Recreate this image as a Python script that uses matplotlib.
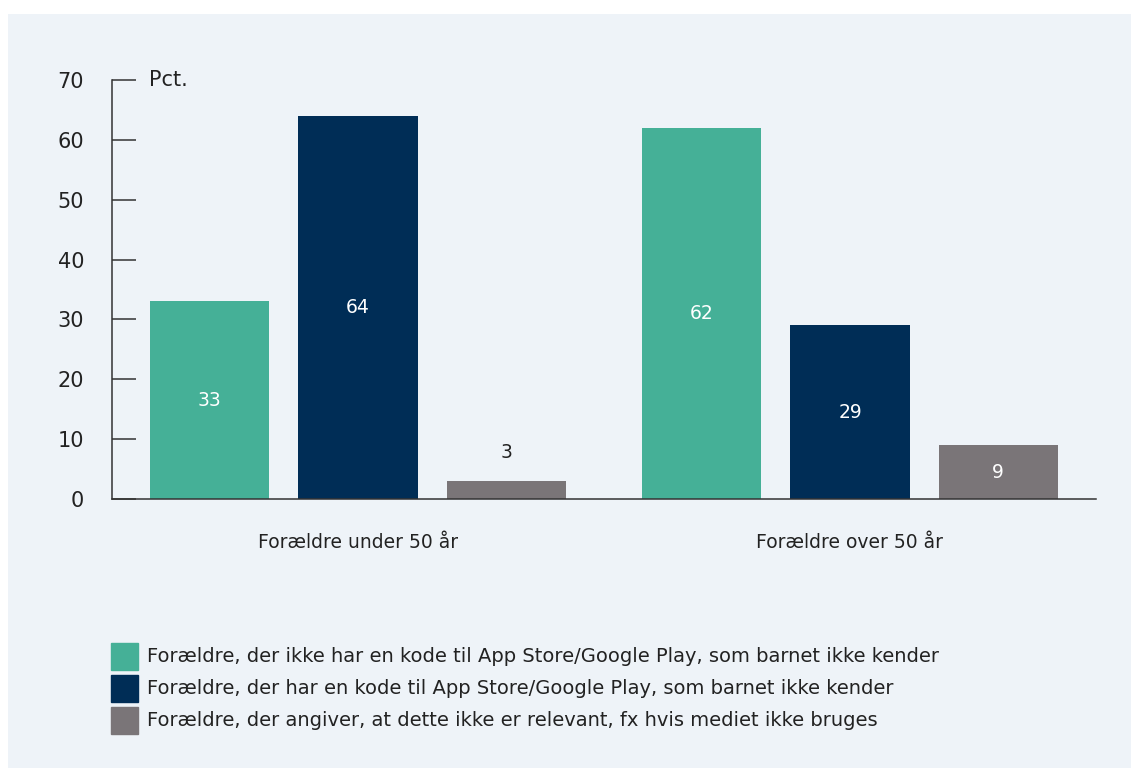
import matplotlib
matplotlib.use("Agg")
import matplotlib.pyplot as plt
import matplotlib.patches as mpatches
import numpy as np

# Data
groups = ["Forældre under 50 år", "Forældre over 50 år"]
series_labels = [
    "Forældre, der ikke har en kode til App Store/Google Play, som barnet ikke kender",
    "Forældre, der har en kode til App Store/Google Play, som barnet ikke kender",
    "Forældre, der angiver, at dette ikke er relevant, fx hvis mediet ikke bruges",
]
no_code = [33, 62]
has_code = [64, 29]
not_relevant = [3, 9]
yticks = [0, 10, 20, 30, 40, 50, 60, 70]

COLORS = ["#45b097", "#002d56", "#7a7578"]
BG = "#eef3f8"
TEXT = "#222222"

plt.rcParams["font.family"] = ["DejaVu Sans"]

fig = plt.figure(figsize=(11.31, 7.69), dpi=100)
fig.patch.set_facecolor("white")
fig.patches.append(mpatches.Rectangle((8 / 1131, 1 / 769), 1, 1 - 15 / 769,
                                      transform=fig.transFigure, facecolor=BG,
                                      edgecolor="none", zorder=-10))

ax = fig.add_axes([112 / 1131, 1 - 499 / 769, (1096 - 112) / 1131, (499 - 80) / 769])
ax.set_facecolor("none")

x = np.arange(len(groups))
width = 0.242
offset = 0.301
series = [no_code, has_code, not_relevant]
for i, vals in enumerate(series):
    pos = x + (i - 1) * offset
    ax.bar(pos, vals, width=width, color=COLORS[i], zorder=2)
    for xp, v in zip(pos, vals):
        if v >= 6:
            ax.text(xp, v / 2, str(v), ha="center", va="center", color="white",
                    fontsize=13.5)
        else:
            ax.text(xp, v + 4.8, str(v), ha="center", va="center", color=TEXT,
                    fontsize=13.5)

ax.set_xlim(-0.5, 1.5)
ax.set_ylim(0, 70)
ax.set_yticks(yticks)
ax.set_yticklabels([str(t) for t in yticks], fontsize=15, color=TEXT)
ax.tick_params(axis="y", direction="in", length=17.5, width=1.1, color="#333333",
               pad=20)
ax.set_xticks([])
for s in ["top", "right"]:
    ax.spines[s].set_visible(False)
for s in ["left", "bottom"]:
    ax.spines[s].set_color("#333333")
    ax.spines[s].set_linewidth(1.1)

ax.text(0.038, 70, "Pct.", transform=ax.get_yaxis_transform(), ha="left",
        va="center", fontsize=15, color=TEXT)

for xi, g in zip(x, groups):
    ax.text(xi, -7.3, g, ha="center", va="center", fontsize=13.5, color=TEXT)

handles = [mpatches.Patch(color=c, label=l) for c, l in zip(COLORS, series_labels)]
fig.legend(handles=handles, loc="upper left", bbox_to_anchor=(93 / 1131, 1 - 625 / 769),
           frameon=False, fontsize=14, handlelength=1.39, handleheight=1.76,
           handletextpad=0.5, labelspacing=0.257, labelcolor=TEXT)

fig.savefig("out.png", dpi=100, facecolor=fig.get_facecolor())
